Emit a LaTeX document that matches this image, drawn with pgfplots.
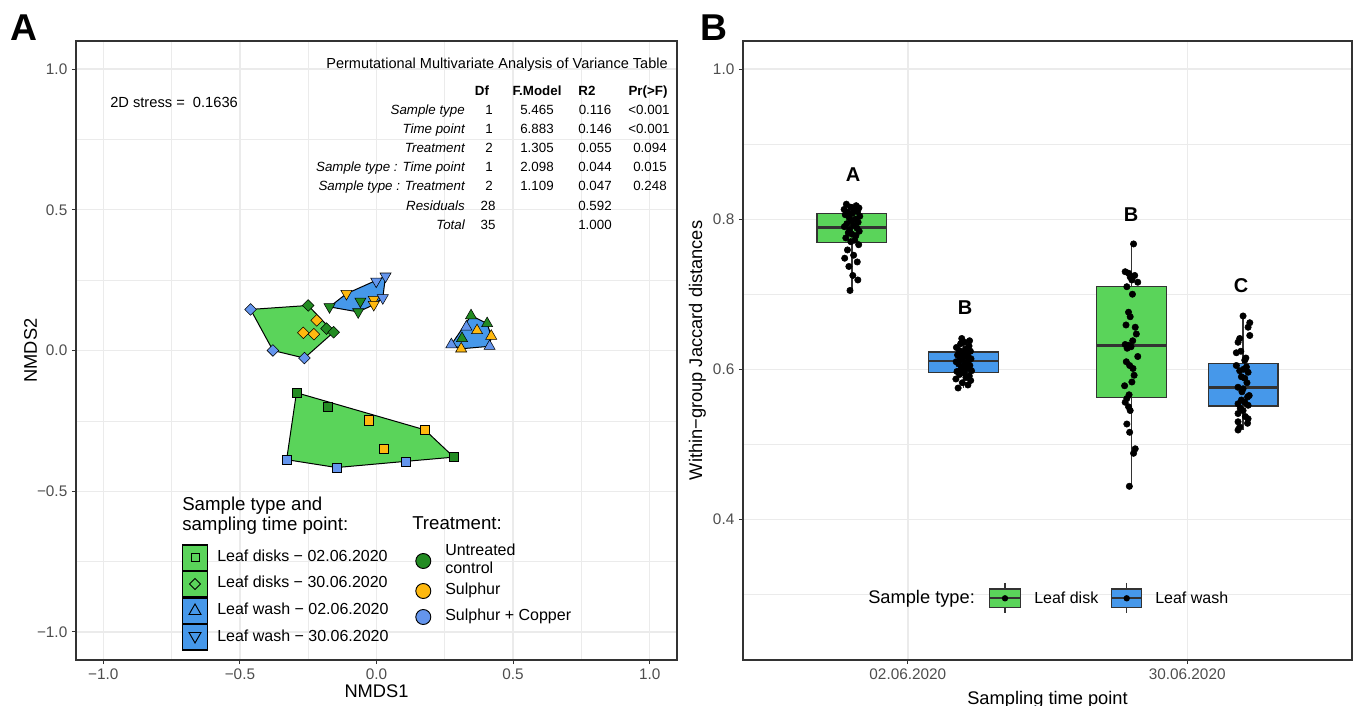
\documentclass[border=0pt]{standalone}
\usepackage{fontspec}
\setmainfont{Liberation Sans}
\usepackage{pgfplots}
\pgfplotsset{compat=1.18}
\usepgfplotslibrary{statistics}
\definecolor{gray92}{RGB}{235,235,235}
\definecolor{gray20}{RGB}{51,51,51}
\definecolor{gray30}{RGB}{77,77,77}
\definecolor{LDgreen}{RGB}{90,212,90}
\definecolor{LWblue}{RGB}{70,152,234}
\definecolor{ctrl}{RGB}{34,139,34}
\definecolor{sulph}{RGB}{255,185,15}
\definecolor{cu}{RGB}{100,149,237}
\newcommand\ft[1]{\fontsize{#1}{#1}\selectfont}

\pgfplotsset{
  ggbase/.style={
    scale only axis, clip=true,
    /pgf/number format/assume math mode=true,
    tick align=outside, xtick pos=left, ytick pos=left,
    major tick length=3pt, minor tick length=0pt,
    tick style={color=gray20, line width=0.8pt},
    axis line style={color=gray20, line width=0.9pt},
    major grid style={color=gray92, line width=1.0pt},
    minor grid style={color=gray92, line width=0.5pt},
    tick label style={font=\ft{11.5}, text=gray30},
    label style={font=\ft{13.7}},
  },
  ptA/.style={only marks, mark options={draw=black, line width=0.6pt}},
  ggbox/.style={boxplot/draw direction=y, draw=gray20, line width=0.9pt, solid},
}

\begin{document}
\begin{tikzpicture}
\path[use as bounding box] (0,0) rectangle (1016.25pt,529.5pt);

% ---------------- Panel A ----------------
\begin{axis}[ggbase,
  at={(57pt,34.5pt)}, anchor=south west,
  width=450.75pt, height=464.25pt,
  xmin=-1.1, xmax=1.1, ymin=-1.1, ymax=1.1,
  xtick={-1,-0.5,0,0.5,1}, xticklabels={−1.0,−0.5,0.0,0.5,1.0},
  ytick={-1,-0.5,0,0.5,1}, yticklabels={−1.0,−0.5,0.0,0.5,1.0},
  minor xtick={-0.75,-0.25,0.25,0.75}, minor ytick={-0.75,-0.25,0.25,0.75},
  grid=both,
  xlabel={NMDS1}, ylabel={NMDS2},
  xlabel style={at={(axis description cs:0.5,-0.0598)}, anchor=base},
  ylabel style={at={(axis description cs:-0.0649,0.5)}, anchor=base},
]
% hulls
\addplot[fill=LDgreen, draw=black, line width=0.75pt] coordinates {(-0.293,-0.150) (0.177,-0.282) (0.283,-0.379) (0.107,-0.394) (-0.146,-0.416) (-0.329,-0.388)} -- cycle;
\addplot[fill=LDgreen, draw=black, line width=0.75pt] coordinates {(-0.461,0.146) (-0.250,0.160) (-0.157,0.065) (-0.264,-0.027) (-0.379,0.0)} -- cycle;
\addplot[fill=LWblue, draw=black, line width=0.75pt] coordinates {(0.274,0.021) (0.346,0.124) (0.405,0.096) (0.420,0.051) (0.414,0.015) (0.310,0.006)} -- cycle;
\addplot[fill=LWblue, draw=black, line width=0.75pt] coordinates {(-0.172,0.155) (-0.110,0.202) (0.033,0.264) (0.023,0.187) (-0.010,0.163) (-0.067,0.137)} -- cycle;
% squares: leaf disks 02.06
\addplot[ptA, mark=square*, mark size=3.4pt, mark options={fill=ctrl}] coordinates {(-0.293,-0.150) (-0.177,-0.200) (0.283,-0.379)};
\addplot[ptA, mark=square*, mark size=3.4pt, mark options={fill=sulph}] coordinates {(-0.030,-0.248) (0.177,-0.282) (0.027,-0.348)};
\addplot[ptA, mark=square*, mark size=3.4pt, mark options={fill=cu}] coordinates {(-0.329,-0.388) (-0.146,-0.416) (0.107,-0.394)};
% diamonds: leaf disks 30.06
\addplot[ptA, mark=square*, mark size=3.1pt, mark options={fill=ctrl, rotate=45}] coordinates {(-0.250,0.160) (-0.183,0.078) (-0.157,0.065)};
\addplot[ptA, mark=square*, mark size=3.1pt, mark options={fill=sulph, rotate=45}] coordinates {(-0.219,0.107) (-0.268,0.063) (-0.229,0.058)};
\addplot[ptA, mark=square*, mark size=3.1pt, mark options={fill=cu, rotate=45}] coordinates {(-0.461,0.146) (-0.379,0.0) (-0.264,-0.027)};
% up triangles: leaf wash 02.06
\addplot[ptA, mark=triangle*, mark size=4.8pt, mark options={fill=ctrl}] coordinates {(0.346,0.124) (0.405,0.096) (0.313,0.043)};
\addplot[ptA, mark=triangle*, mark size=4.8pt, mark options={fill=sulph}] coordinates {(0.368,0.071) (0.420,0.051) (0.310,0.006)};
\addplot[ptA, mark=triangle*, mark size=4.8pt, mark options={fill=cu}] coordinates {(0.329,0.084) (0.274,0.021) (0.414,0.015)};
% down triangles: leaf wash 30.06
\addplot[ptA, mark=triangle*, mark size=4.8pt, mark options={fill=ctrl, rotate=180}] coordinates {(-0.172,0.155) (-0.059,0.175) (-0.067,0.137)};
\addplot[ptA, mark=triangle*, mark size=4.8pt, mark options={fill=sulph, rotate=180}] coordinates {(-0.110,0.202) (-0.010,0.181) (-0.010,0.163)};
\addplot[ptA, mark=triangle*, mark size=4.8pt, mark options={fill=cu, rotate=180}] coordinates {(-0.001,0.246) (0.033,0.264) (0.023,0.187)};
\end{axis}

% ---------------- Panel B ----------------
\begin{axis}[ggbase,
  at={(557.25pt,34.5pt)}, anchor=south west,
  width=456.75pt, height=464.25pt,
  xmin=0.41, xmax=2.59, ymin=0.2125, ymax=1.0375,
  xtick={1,2}, xticklabels={02.06.2020,30.06.2020},
  ytick={0.4,0.6,0.8,1.0}, yticklabels={0.4,0.6,0.8,1.0},
  minor ytick={0.3,0.5,0.7,0.9},
  xmajorgrids, ymajorgrids, yminorgrids,
  xlabel={Sampling time point}, ylabel={Within−group Jaccard distances},
  xlabel style={at={(axis description cs:0.5,-0.0711)}, anchor=base},
  ylabel style={at={(axis description cs:-0.0673,0.5)}, anchor=base},
  boxplot/every median/.style={line width=2pt},
]
\addplot[ggbox, fill=LDgreen, boxplot prepared={draw position=0.8, lower whisker=0.705, lower quartile=0.769, median=0.789, upper quartile=0.808, upper whisker=0.820, box extend=0.25, whisker extend=0}] coordinates {};
\addplot[ggbox, fill=LWblue, boxplot prepared={draw position=1.2, lower whisker=0.575, lower quartile=0.596, median=0.611, upper quartile=0.623, upper whisker=0.641, box extend=0.25, whisker extend=0}] coordinates {};
\addplot[ggbox, fill=LDgreen, boxplot prepared={draw position=1.8, lower whisker=0.444, lower quartile=0.562, median=0.632, upper quartile=0.710, upper whisker=0.767, box extend=0.25, whisker extend=0}] coordinates {};
\addplot[ggbox, fill=LWblue, boxplot prepared={draw position=2.2, lower whisker=0.519, lower quartile=0.551, median=0.576, upper quartile=0.608, upper whisker=0.671, box extend=0.25, whisker extend=0}] coordinates {};
% jittered points
\addplot[only marks, mark=*, mark size=2.4pt, mark options={fill=black, draw=black}] table {
x y
0.780 0.820
0.815 0.818
0.795 0.816
0.825 0.815
0.772 0.813
0.808 0.812
0.820 0.810
0.785 0.809
0.802 0.808
0.776 0.806
0.828 0.804
0.790 0.802
0.812 0.800
0.798 0.798
0.822 0.796
0.782 0.794
0.805 0.792
0.773 0.790
0.818 0.788
0.792 0.786
0.826 0.784
0.787 0.782
0.800 0.780
0.814 0.778
0.778 0.775
0.810 0.772
0.796 0.770
0.824 0.766
0.784 0.759
0.806 0.752
0.774 0.748
0.819 0.743
0.789 0.737
0.803 0.725
0.821 0.719
0.793 0.705
1.193 0.641
1.221 0.638
1.203 0.636
1.189 0.634
1.219 0.631
1.174 0.629
1.206 0.627
1.184 0.625
1.224 0.624
1.196 0.622
1.210 0.620
1.178 0.619
1.214 0.618
1.200 0.616
1.187 0.615
1.226 0.614
1.192 0.613
1.218 0.612
1.173 0.610
1.205 0.608
1.182 0.607
1.222 0.605
1.198 0.603
1.212 0.601
1.190 0.600
1.228 0.598
1.176 0.597
1.202 0.595
1.185 0.593
1.220 0.591
1.208 0.589
1.172 0.587
1.225 0.585
1.195 0.582
1.215 0.579
1.180 0.575
1.808 0.767
1.778 0.730
1.790 0.728
1.796 0.723
1.802 0.719
1.823 0.716
1.784 0.710
1.790 0.676
1.796 0.670
1.781 0.659
1.814 0.656
1.818 0.647
1.778 0.633
1.790 0.632
1.799 0.630
1.823 0.617
1.782 0.610
1.794 0.605
1.806 0.601
1.802 0.583
1.776 0.578
1.784 0.561
1.778 0.556
1.790 0.550
1.796 0.545
1.784 0.527
1.794 0.516
1.814 0.494
1.808 0.488
1.793 0.444
1.812 0.725
1.805 0.638
1.785 0.628
1.810 0.592
1.792 0.566
1.804 0.700
2.200 0.671
2.224 0.662
2.218 0.656
2.224 0.645
2.188 0.641
2.182 0.636
2.192 0.624
2.176 0.622
2.206 0.612
2.176 0.605
2.212 0.603
2.218 0.596
2.194 0.590
2.206 0.588
2.182 0.576
2.200 0.574
2.216 0.563
2.194 0.559
2.206 0.556
2.182 0.554
2.218 0.552
2.200 0.545
2.182 0.541
2.218 0.534
2.182 0.530
2.216 0.528
2.188 0.523
2.182 0.519
2.210 0.615
2.188 0.598
2.214 0.582
2.196 0.570
2.222 0.565
2.190 0.548
2.208 0.537
2.202 0.600
};
\end{axis}

% ---------------- annotations (pixel-based scope) ----------------
\begin{scope}[x=0.75pt, y=-0.75pt, shift={(0pt,529.5pt)}]
\node[font=\ft{28}\bfseries] at (24,28) {A};
\node[font=\ft{28}\bfseries] at (714,28) {B};
\begin{scope}[every node/.append style={inner sep=0pt}]
% stress
\node[anchor=mid west, font=\ft{11}] at (110,104) {2D stress = \ 0.1636};

% PERMANOVA table
\node[anchor=mid east, font=\ft{10.9}] at (668,65) {Permutational Multivariate Analysis of Variance Table};
\begin{scope}[every node/.append style={font=\ft{10}\bfseries, anchor=mid}]
\node at (482,92) {Df}; \node at (537,92) {F.Model}; \node at (587,92) {R2}; \node at (648,92) {Pr(>F)};
\end{scope}
\begin{scope}[every node/.append style={font=\ft{10}\itshape, anchor=mid east}]
\node at (465,111) {Sample type};
\node at (465,130) {Time point};
\node at (465,149.3) {Treatment};
\node at (465,168.3) {Sample type : Time point};
\node at (465,187.3) {Sample type : Treatment};
\node at (465,206.7) {Residuals};
\node at (465,226) {Total};
\end{scope}
\begin{scope}[every node/.append style={font=\ft{10}, anchor=mid}]
\node at (489,111) {1}; \node at (537,111) {5.465}; \node at (595,111) {0.116}; \node at (649,111) {<0.001};
\node at (489,130) {1}; \node at (537,130) {6.883}; \node at (595,130) {0.146}; \node at (649,130) {<0.001};
\node at (489,149.3) {2}; \node at (537,149.3) {1.305}; \node at (595,149.3) {0.055}; \node at (650,149.3) {0.094};
\node at (489,168.3) {1}; \node at (537,168.3) {2.098}; \node at (595,168.3) {0.044}; \node at (650,168.3) {0.015};
\node at (489,187.3) {2}; \node at (537,187.3) {1.109}; \node at (595,187.3) {0.047}; \node at (650,187.3) {0.248};
\node at (488,206.7) {28}; \node at (595,206.7) {0.592};
\node at (488,226) {35}; \node at (595,226) {1.000};
\end{scope}

% Legend A: sample type
\node[anchor=mid west, font=\ft{14}] at (182,507) {Sample type and};
\node[anchor=mid west, font=\ft{14}] at (182,527) {sampling time point:};
\draw[fill=LDgreen, line width=1pt] (182.5,545) rectangle (207.5,571);
\draw[fill=LDgreen, line width=1pt] (182.5,571.5) rectangle (207.5,597);
\draw[fill=LWblue, line width=1pt] (182.5,598) rectangle (207.5,623.5);
\draw[fill=LWblue, line width=1pt] (182.5,624.5) rectangle (207.5,650);
\draw[line width=0.7pt] (191,553.8) rectangle (199,561.8);
\draw[line width=0.7pt] (195,578.5) -- (200.5,584) -- (195,589.5) -- (189.5,584) -- cycle;
\draw[line width=0.7pt] (195,604) -- (201,614.5) -- (189,614.5) -- cycle;
\draw[line width=0.7pt] (189,632.5) -- (201,632.5) -- (195,643) -- cycle;
\node[anchor=mid west, font=\ft{12}] at (217,557.8) {Leaf disks − 02.06.2020};
\node[anchor=mid west, font=\ft{12}] at (217,584) {Leaf disks − 30.06.2020};
\node[anchor=mid west, font=\ft{12}] at (217,610.5) {Leaf wash − 02.06.2020};
\node[anchor=mid west, font=\ft{12}] at (217,637.5) {Leaf wash − 30.06.2020};

% Legend A: treatment
\node[anchor=mid west, font=\ft{14}] at (412,526) {Treatment:};
\draw[fill=ctrl, line width=0.7pt] (423.3,561) circle [radius=7.5];
\draw[fill=sulph, line width=0.7pt] (423.3,591) circle [radius=7.5];
\draw[fill=cu, line width=0.7pt] (423.3,617) circle [radius=7.5];
\node[anchor=mid west, font=\ft{12}] at (445,552.3) {Untreated};
\node[anchor=mid west, font=\ft{12}] at (445,570) {control};
\node[anchor=mid west, font=\ft{12}] at (445,591) {Sulphur};
\node[anchor=mid west, font=\ft{12}] at (445,617.3) {Sulphur + Copper};

% Legend B
\node[anchor=mid west, font=\ft{13.7}] at (868,600) {Sample type:};
\draw[gray20, line width=0.9pt] (1005,583) -- (1005,613);
\draw[fill=LDgreen, draw=gray20, line width=0.9pt] (989.5,589) rectangle (1020.5,607.5);
\draw[gray20, line width=1.6pt] (989.5,598.3) -- (1020.5,598.3);
\fill[black] (1005,598.3) circle [radius=3.2];
\node[anchor=mid west, font=\ft{12}] at (1034,600) {Leaf disk};
\draw[gray20, line width=0.9pt] (1126.7,583) -- (1126.7,613);
\draw[fill=LWblue, draw=gray20, line width=0.9pt] (1111.7,589) rectangle (1141.7,607.5);
\draw[gray20, line width=1.6pt] (1111.7,598.3) -- (1141.7,598.3);
\fill[black] (1126.7,598.3) circle [radius=3.2];
\node[anchor=mid west, font=\ft{12}] at (1155,600) {Leaf wash};
\end{scope}

% Panel B letters
\node[font=\ft{15}\bfseries] at (853,175) {A};
\node[font=\ft{15}\bfseries] at (965,308) {B};
\node[font=\ft{15}\bfseries] at (1131,215) {B};
\node[font=\ft{15}\bfseries] at (1241,286) {C};
\end{scope}
\end{tikzpicture}
\end{document}
